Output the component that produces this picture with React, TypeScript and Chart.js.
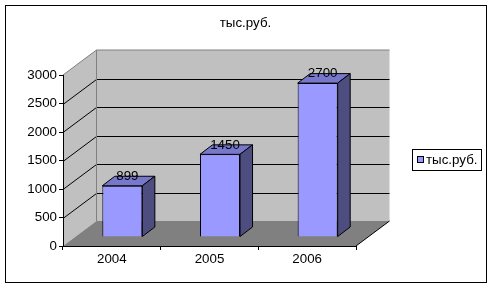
import React, { useEffect, useRef } from 'react';
import { Chart, registerables } from 'chart.js';

Chart.register(...registerables);

// ---- data ----
const categories: string[] = ['2004', '2005', '2006'];
const seriesValues: number[] = [899, 1450, 2700];
const seriesName = 'тыс.руб.';
const chartTitle = 'тыс.руб.';
const yMin = 0;
const yMax = 3000;
const yStep = 500;

// ---- style ----
const FONT = 'Arial, "Liberation Sans", sans-serif';
const FS = 13.33;
const WALL = '#c0c0c0';
const FLOOR = '#808080';
const EDGE = '#808080';
const FRONT = '#9999ff';
const TOP = '#7777cc';
const SIDE = '#4d4d80';
const DEPTH = { x: 33.5, y: -25 };
const BAR_SHIFT = { x: 10.5, y: -9 };
const BAR_DEPTH = { x: 12.5, y: -9.5 };

function poly(ctx: CanvasRenderingContext2D, pts: number[][], fill?: string, stroke?: string) {
  ctx.beginPath();
  pts.forEach((p, i) => (i ? ctx.lineTo(p[0], p[1]) : ctx.moveTo(p[0], p[1])));
  ctx.closePath();
  if (fill) {
    ctx.fillStyle = fill;
    ctx.fill();
  }
  if (stroke) {
    ctx.strokeStyle = stroke;
    ctx.lineWidth = 1;
    ctx.stroke();
  }
}

const excel3d = {
  id: 'excel3d',
  beforeDraw(chart: any) {
    const { ctx, chartArea: a, scales } = chart;
    const ys = scales.y;
    const L = a.left, R = a.right, T = a.top, B = a.bottom;
    const dx = DEPTH.x, dy = DEPTH.y;
    ctx.save();
    ctx.fillStyle = '#fff';
    ctx.fillRect(0, 0, chart.width, chart.height);
    ctx.strokeStyle = '#000';
    ctx.lineWidth = 1;
    ctx.strokeRect(5.5, 5.5, 481, 277);
    // title
    ctx.fillStyle = '#000';
    ctx.font = `${FS}px ${FONT}`;
    ctx.textAlign = 'center';
    ctx.textBaseline = 'middle';
    ctx.fillText(chartTitle, 245.5, 23);
    // back wall
    poly(ctx, [[L + dx, T + dy], [R + dx, T + dy], [R + dx, B + dy], [L + dx, B + dy]], WALL);
    // side wall
    poly(ctx, [[L, T], [L + dx, T + dy], [L + dx, B + dy], [L, B]], WALL);
    // floor
    poly(ctx, [[L, B], [R, B], [R + dx, B + dy], [L + dx, B + dy]], FLOOR);
    // gridlines
    ctx.strokeStyle = '#000';
    ctx.lineWidth = 1;
    for (let v = yMin + yStep; v < yMax; v += yStep) {
      const py = Math.round(ys.getPixelForValue(v)) + 0.5;
      ctx.beginPath();
      ctx.moveTo(L, py);
      ctx.lineTo(L + dx, py + dy);
      ctx.lineTo(R + dx, py + dy);
      ctx.stroke();
    }
    // wall edges
    ctx.strokeStyle = EDGE;
    ctx.beginPath();
    ctx.moveTo(L, T);
    ctx.lineTo(L + dx, T + dy);
    ctx.lineTo(R + dx, T + dy);
    ctx.moveTo(L + dx, T + dy);
    ctx.lineTo(L + dx, B + dy);
    ctx.stroke();
    // floor right edge
    ctx.strokeStyle = '#000';
    ctx.beginPath();
    ctx.moveTo(R, B);
    ctx.lineTo(R + dx, B + dy);
    ctx.stroke();
    ctx.restore();
  },
  beforeDatasetsDraw(chart: any) {
    chart.ctx.save();
    chart.ctx.translate(BAR_SHIFT.x, BAR_SHIFT.y);
  },
  afterDatasetsDraw(chart: any) {
    const ctx = chart.ctx;
    const meta = chart.getDatasetMeta(0);
    const bx = BAR_DEPTH.x, by = BAR_DEPTH.y;
    meta.data.forEach((el: any, i: number) => {
      const l = el.x - el.width / 2;
      const r = el.x + el.width / 2;
      const t = el.y;
      const b = el.base;
      poly(ctx, [[l, t], [r, t], [r + bx, t + by], [l + bx, t + by]], TOP, '#000');
      poly(ctx, [[r, t], [r + bx, t + by], [r + bx, b + by], [r, b]], SIDE, '#000');
      ctx.fillStyle = '#000';
      ctx.font = `${FS}px ${FONT}`;
      ctx.textAlign = 'center';
      ctx.textBaseline = 'middle';
      ctx.fillText(String(seriesValues[i]), el.x + 5, t + by);
    });
    ctx.restore();
  },
  afterDraw(chart: any) {
    const ctx = chart.ctx;
    ctx.save();
    ctx.fillStyle = '#fff';
    ctx.fillRect(412.5, 149.5, 69, 21);
    ctx.strokeStyle = '#000';
    ctx.lineWidth = 1;
    ctx.strokeRect(412.5, 149.5, 69, 21);
    ctx.fillStyle = FRONT;
    ctx.fillRect(417.5, 156.5, 6, 6);
    ctx.strokeRect(417.5, 156.5, 6, 6);
    ctx.fillStyle = '#000';
    ctx.font = `${FS}px ${FONT}`;
    ctx.textAlign = 'left';
    ctx.textBaseline = 'middle';
    ctx.fillText(seriesName, 426, 160);
    ctx.restore();
  },
};

export default function App() {
  const ref = useRef<HTMLCanvasElement>(null);
  useEffect(() => {
    if (!ref.current) return;
    const chart = new Chart(ref.current, {
      type: 'bar',
      data: {
        labels: categories,
        datasets: [
          {
            label: seriesName,
            data: seriesValues,
            backgroundColor: FRONT,
            borderColor: '#000',
            borderWidth: 1,
            categoryPercentage: 1,
            barPercentage: 0.41,
          },
        ],
      },
      options: {
        animation: false,
        responsive: false,
        devicePixelRatio: 1,
        layout: { padding: { left: 0, right: 136, top: 75, bottom: 0 } },
        plugins: {
          legend: { display: false },
          tooltip: { enabled: false },
          title: { display: false },
        },
        scales: {
          x: {
            type: 'category',
            afterFit: (s: any) => {
              s.height = 42;
            },
            grid: { display: true, drawOnChartArea: false, drawTicks: true, tickLength: 4, color: '#000', offset: true },
            border: { display: true, color: '#000' },
            ticks: { color: '#000', padding: 1, font: { family: FONT, size: FS } },
          },
          y: {
            min: yMin,
            max: yMax,
            afterFit: (s: any) => {
              s.width = 63;
            },
            grid: { display: true, drawOnChartArea: false, drawTicks: true, tickLength: 4, color: '#000' },
            border: { display: true, color: '#000' },
            ticks: {
              stepSize: yStep,
              color: '#000',
              padding: 2,
              font: { family: FONT, size: FS },
              callback: (v: any) => String(v),
            },
          },
        },
      },
      plugins: [excel3d],
    });
    return () => chart.destroy();
  }, []);
  return (
    <div style={{ position: 'absolute', left: 0, top: 0, width: 492, height: 288 }}>
      <canvas ref={ref} width={492} height={288} style={{ display: 'block', width: 492, height: 288 }} />
    </div>
  );
}
